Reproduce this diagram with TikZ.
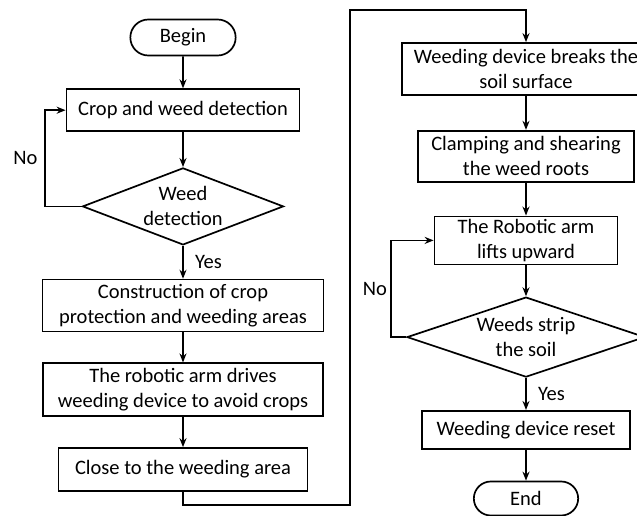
\documentclass[tikz,border=0pt]{standalone}
\usepackage{fontspec}
\setmainfont{Carlito}
\usetikzlibrary{arrows.meta, positioning, shapes.geometric, shapes.misc}

\begin{document}
\begin{tikzpicture}[x=1pt, y=-1pt,
      font=\fontsize{20.5}{25}\selectfont,
      stepbox/.style={draw, line width=1.7pt, align=center, inner sep=2pt},
      termbox/.style={rounded rectangle, draw, line width=1.7pt,
        minimum width=112pt, minimum height=36pt},
      decision/.style={diamond, draw, line width=1.7pt, align=center, inner sep=0pt},
      flow/.style={line width=1.7pt, -{Stealth[length=9pt, width=7pt]}},
      node distance=33pt
    ]
      \useasboundingbox (0,0) rectangle (637,516);
      % left column
      \node[termbox] (begin) at (183,37.5) {Begin};
      \node[stepbox, below=32pt of begin, minimum width=233pt, minimum height=42pt] (detect) {Crop and weed detection};
      \node[decision, below=35pt of detect, minimum width=201pt, minimum height=77pt, aspect=2.6] (weed) {Weed\\detection};
      \node[stepbox, below=33pt of weed, minimum width=281pt, minimum height=52pt] (protect) {Construction of crop\\protection and weeding areas};
      \node[stepbox, below=30pt of protect, minimum width=280pt, minimum height=53pt] (drive) {The robotic arm drives\\weeding device to avoid crops};
      \node[stepbox, below=30pt of drive, minimum width=249pt, minimum height=43pt] (close) {Close to the weeding area};
      % right column
      \node[stepbox, minimum width=248pt, minimum height=52pt] (breaks) at (526,69) {Weeding device breaks the\\soil surface};
      \node[stepbox, below=34pt of breaks, minimum width=216pt, minimum height=51pt] (clamp) {Clamping and shearing\\the weed roots};
      \node[stepbox, below=33pt of clamp, minimum width=183pt, minimum height=48pt] (lift) {The Robotic arm\\lifts upward};
      \node[decision, below=31pt of lift, minimum width=238pt, minimum height=80pt, aspect=2.97] (strip) {Weeds strip\\the soil};
      \node[stepbox, below=32pt of strip, minimum width=208pt, minimum height=38pt] (reset) {Weeding device reset};
      \node[termbox, below=31pt of reset, minimum width=111pt, minimum height=34pt] (end) {End};
      \coordinate (lowturn) at (350,505);
      \coordinate (highturn) at (350,10);
      \draw[flow] (begin) -- (detect);
      \draw[flow] (detect) -- (weed);
      \draw[flow] (weed) -- node[right, xshift=8pt] {Yes} (protect);
      \draw[flow] (protect) -- (drive);
      \draw[flow] (drive) -- (close);
      \draw[flow] (weed.west) -- ++(-37,0) |- node[pos=0.25, left, xshift=-3pt] {No} (detect.west);
      \draw[flow] (close.south) |- (lowturn) -- (highturn) -| (breaks.north);
      \draw[flow] (breaks) -- (clamp);
      \draw[flow] (clamp) -- (lift);
      \draw[flow] (lift) -- (strip);
      \draw[flow] (strip) -- node[right, xshift=8pt] {Yes} (reset);
      \draw[flow] (reset) -- (end);
      \draw[flow] (strip.west) -- ++(-15,0) |- node[pos=0.25, left] {No} (lift.west);
    \end{tikzpicture}
\end{document}
